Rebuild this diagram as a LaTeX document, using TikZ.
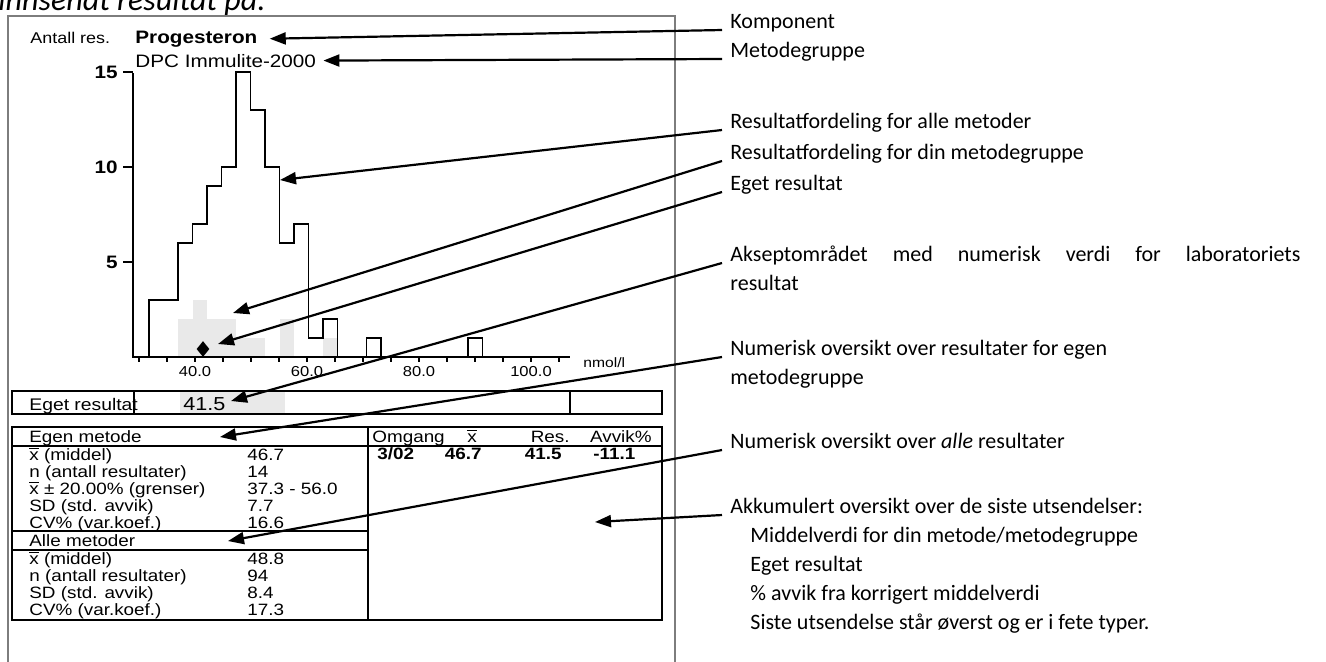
\documentclass[tikz,border=0pt]{standalone}
\usepackage{fontspec}
\setmainfont{Carlito}
\newfontfamily\chartfont[FakeStretch=1.15]{Liberation Sans}
\usetikzlibrary{arrows.meta,shapes.geometric,positioning}
\definecolor{owngray}{RGB}{233,233,233}
\definecolor{framegray}{RGB}{125,125,125}
\newcommand\xmean{$\overline{\mbox{x}}$}

\begin{document}
\begin{tikzpicture}[x=0.5pt, y=-0.5pt,
    lbl/.style={
        anchor=base west,
        inner sep=0pt,
        font=\fontsize{11}{13}\selectfont},
    chart/.style={
        anchor=base west,
        inner sep=0pt,
        font=\chartfont\fontsize{8.2}{9}\selectfont},
    chartbold/.style={
        chart,
        font=\chartfont\bfseries\fontsize{8.2}{9}\selectfont},
    tabframe/.style={
        draw=black,
        line width=0.6pt},
    pil/.style={
        line width=1.1pt,
        -{Triangle[length=8pt,width=6pt]}}
    ]

    \useasboundingbox (0,0) rectangle (1326,661);

    \node (head) [anchor=base west, inner sep=0pt, font=\itshape\fontsize{16}{18}\selectfont] at (-2,10) {innsendt resultat på:};
    \draw [framegray, line width=0.8pt] (8,16) rectangle (675,700);

    \node (antall) [chart, font=\chartfont\fontsize{7.8}{9}\selectfont] at (30,43) {Antall res.};
    \node (prog) [chart, font=\chartfont\bfseries\fontsize{9}{11}\selectfont] at (135,43) {Progesteron};
    \node (dpc) [chart, font=\chartfont\fontsize{9}{11}\selectfont] at (135,67) {DPC Immulite-2000};

    % histogram
    \foreach \i/\c in {2/2,3/3,4/2,5/2,6/1,7/1,9/2,12/1}
        \fill [owngray] (149+14.5*\i,357) rectangle ++(14.5,-19*\c);
    \draw [line width=0.6pt] (149,357)
        \foreach \c [count=\i from 0] in {3,3,6,7,9,10,15,13,10,6,7,1,2}
            { -- (149+14.5*\i,357-19*\c) -- (163.5+14.5*\i,357-19*\c) } -- (337.5,357);
    \draw [line width=0.6pt] (366.5,357) rectangle (381,338);
    \draw [line width=0.6pt] (468,357) rectangle (482.5,338);

    \draw [line width=0.6pt] (133,73) -- (133,357) -- (570,357);
    \foreach \v in {15,10,5} {
        \draw [line width=0.6pt] (123,357-19*\v) -- (133,357-19*\v);
        \node (ytick\v) [chartbold, anchor=east, font=\chartfont\bfseries\fontsize{9}{10}\selectfont] at (118,357-19*\v) {\v};
    }
    \foreach \k in {0,...,15}
        \draw [line width=0.6pt] (139+28*\k,357) -- (139+28*\k,362);
    \foreach \v in {40,60,80,100}
        \node (xtick\v) [chart, anchor=center, font=\chartfont\fontsize{7.2}{8}\selectfont] at ({195+5.6*(\v-40)},372) {\v.0};
    \node (unit) [chart, anchor=west, font=\chartfont\fontsize{6.8}{8}\selectfont] at (583,363) {nmol/l};

    \node (own) [diamond, fill=black, inner sep=0pt, minimum width=6.5pt, minimum height=8pt] at (203,349) {};

    % eget resultat
    \fill [owngray] ({195+5.6*(37.3-40)},392) rectangle ({195+5.6*(56-40)},413);
    \draw [tabframe] (12,391) rectangle (662,414);
    \draw [tabframe] (134,391) -- (134,414);
    \draw [tabframe] (570,391) -- (570,414);
    \node (egetlbl) [chart, font=\chartfont\fontsize{8.4}{9}\selectfont] at (29,410) {Eget resultat};
    \node (egetval) [chart, font=\chartfont\fontsize{9.4}{10}\selectfont] at (183,410) {41.5};

    % tabell
    \draw [tabframe] (12,427) rectangle (662,620);
    \draw [tabframe] (368,427) -- (368,620);
    \draw [tabframe] (12,446) -- (662,446);
    \draw [tabframe] (12,531) -- (368,531);
    \draw [tabframe] (12,550) -- (368,550);

    \node (egen) [chart] at (29,442) {Egen metode};
    \foreach \lab/\val [count=\r from 0] in {{\xmean{} (middel)}/46.7, {n (antall resultater)}/14, {\xmean{} ± 20.00\% (grenser)}/{37.3 - 56.0}, {SD (std. avvik)}/7.7, {CV\% (var.koef.)}/16.6} {
        \node (egenL\r) [chart] at (29,460+17*\r) {\lab};
        \node (egenV\r) [chart] at (247,460+17*\r) {\val};
    }
    \node (alle) [chart] at (29,546) {Alle metoder};
    \foreach \lab/\val [count=\r from 0] in {{\xmean{} (middel)}/48.8, {n (antall resultater)}/94, {SD (std. avvik)}/8.4, {CV\% (var.koef.)}/17.3} {
        \node (alleL\r) [chart] at (29,564+17*\r) {\lab};
        \node (alleV\r) [chart] at (247,564+17*\r) {\val};
    }

    \node (omg) [chart] at (372,442) {Omgang};
    \node (hmean) [chart, anchor=base] at (472,442) {\xmean};
    \node (hres) [chart, anchor=base east] at (570,442) {Res.};
    \node (havv) [chart, anchor=base east] at (652,442) {Avvik\%};
    \node (vomg) [chartbold] at (377,459) {3/02};
    \node (vmean) [chartbold, anchor=base east] at (482,459) {46.7};
    \node (vres) [chartbold, anchor=base east] at (562,459) {41.5};
    \node (vavv) [chartbold] at (593,459) {-11.1};

    % forklaringer
    \node (komp) [lbl] at (730,28) {Komponent};
    \node (metgr) [lbl] at (730,57) {Metodegruppe};
    \node (fordAlle) [lbl] at (730,128) {Resultatfordeling for alle metoder};
    \node (fordDin) [lbl] at (730,159) {Resultatfordeling for din metodegruppe};
    \node (egetRes) [lbl] at (730,190) {Eget resultat};
    \node (aksept) [lbl] at (730,261) {\hbox to 285pt{Akseptområdet\hfill med\hfill numerisk\hfill verdi\hfill for\hfill laboratoriets}};
    \node (akseptB) [lbl] at (730,290) {resultat};
    \node (numEgen) [lbl] at (730,355) {Numerisk oversikt over resultater for egen};
    \node (numEgenB) [lbl] at (730,384) {metodegruppe};
    \node (numAlle) [lbl] at (730,448) {Numerisk oversikt over \textit{alle} resultater};
    \node (akk) [lbl] at (730,513) {Akkumulert oversikt over de siste utsendelser:};
    \foreach \t [count=\i] in {{Middelverdi for din metode/metodegruppe}, {Eget resultat}, {\% avvik fra korrigert middelverdi}, {Siste utsendelse står øverst og er i fete typer.}}
        \node (akk\i) [lbl] at (750,513+29*\i) {\t};

    \coordinate (tipAlle) at (280,180);
    \coordinate (tipDin) at (233,313);
    \coordinate (tipEget) at (218,344);
    \coordinate (tipAks) at (231,401);
    \coordinate (tipNumEgen) at (220,437);
    \coordinate (tipNumAlle) at (228,541);
    \coordinate (tipAkk) at (595,522);

    \draw [pil] ([xshift=-4pt,yshift=-1pt]komp.base west) -- ([xshift=6pt]prog.east);
    \draw [pil] ([xshift=-4pt,yshift=-1pt]metgr.base west) -- ([xshift=3.5pt]dpc.east);
    \draw [pil] ([xshift=-4pt,yshift=-1pt]fordAlle.base west) -- (tipAlle);
    \draw [pil] ([xshift=-4pt,yshift=-1pt]fordDin.base west) -- (tipDin);
    \draw [pil] ([xshift=-4pt,yshift=-1pt]egetRes.base west) -- (tipEget);
    \draw [pil] ([xshift=-4pt,yshift=-1pt]aksept.base west) -- (tipAks);
    \draw [pil] ([xshift=-4pt,yshift=-1pt]numEgen.base west) -- (tipNumEgen);
    \draw [pil] ([xshift=-4pt,yshift=-1pt]numAlle.base west) -- (tipNumAlle);
    \draw [pil] ([xshift=-4pt,yshift=-1pt]akk.base west) -- (tipAkk);

\end{tikzpicture}
\end{document}
